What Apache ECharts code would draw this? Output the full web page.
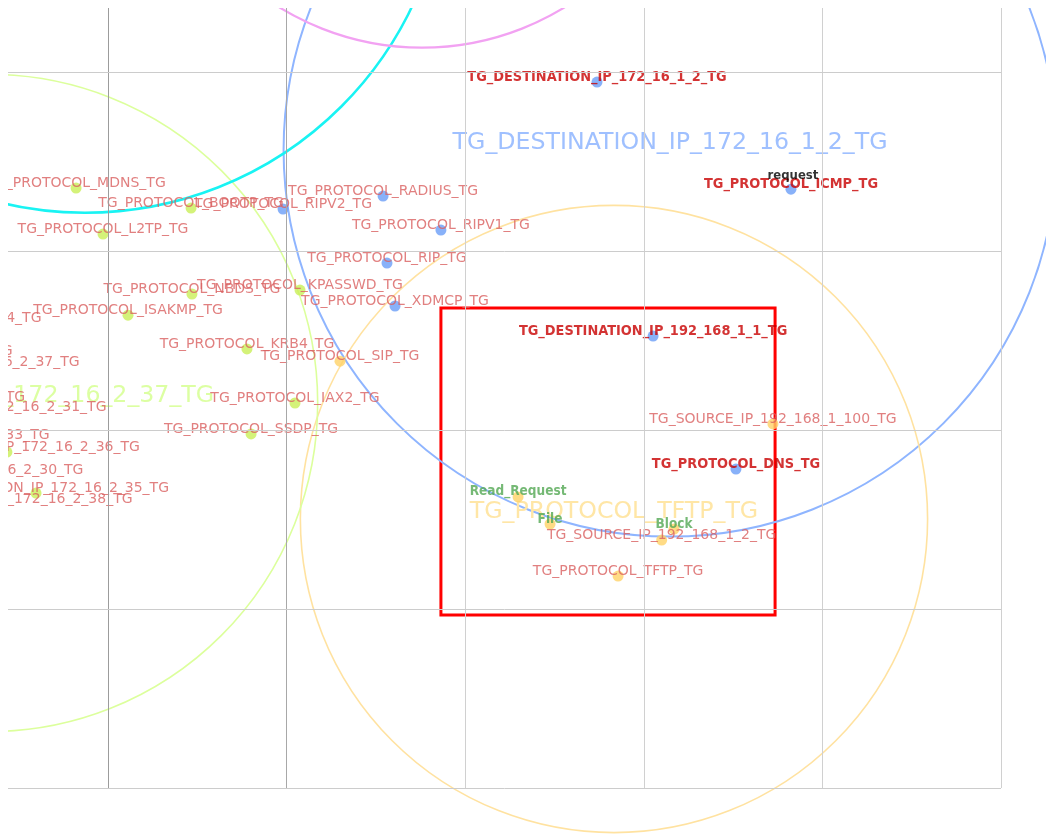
<!DOCTYPE html>
<html><head><meta charset="utf-8">
<script src="https://cdn.jsdelivr.net/npm/echarts@6/dist/echarts.min.js"></script>
<style>html,body{margin:0;padding:0;background:#fff}#c{width:1046px;height:836px}</style>
</head><body><div id="c"></div>
<script>
// ---- grid line positions (data units: grid cell = 100) ----
const xGridLines = [100, 200, 300, 400, 500, 600];
const yGridLines = [100, 200, 300, 400, 500];
const xRange = [44.0, 600];
const yRange = [64.2, 500];

// ---- cluster circles ----
const clusterNames = ['TG_DESTINATION_IP_172_16_1_2_TG', 'TG_PROTOCOL_TFTP_TG', 'TG_DESTINATION_IP_172_16_2_37_TG', '', ''];
const clusterX = [414.7, 383.3, 33.4, 87.1, 275.8];
const clusterY = [143.6, 349.7, 284.9, -24.0, -65.4];
const clusterR = [216.4, 175.6, 184.0, 203.0, 152.1];

// ---- nodes ----
const nodeNames = [
  'TG_DESTINATION_IP_172_16_1_2_TG', 'TG_PROTOCOL_ICMP_TG', 'TG_PROTOCOL_RADIUS_TG', 'TG_PROTOCOL_RIPV2_TG',
  'TG_PROTOCOL_BOOTP_TG', 'TG_PROTOCOL_MDNS_TG', 'TG_PROTOCOL_L2TP_TG', 'TG_PROTOCOL_RIPV1_TG',
  'TG_PROTOCOL_RIP_TG', 'TG_PROTOCOL_KPASSWD_TG', 'TG_PROTOCOL_NBDS_TG', 'TG_PROTOCOL_XDMCP_TG',
  'TG_PROTOCOL_ISAKMP_TG', 'TG_PROTOCOL_KRB4_TG', 'TG_PROTOCOL_SIP_TG', 'TG_PROTOCOL_IAX2_TG',
  'TG_PROTOCOL_SSDP_TG', 'TG_DESTINATION_IP_192_168_1_1_TG', 'TG_SOURCE_IP_192_168_1_100_TG', 'TG_PROTOCOL_DNS_TG',
  'Read_Request', 'File', 'Block', 'TG_SOURCE_IP_192_168_1_2_TG', 'TG_PROTOCOL_TFTP_TG',
  'TG_DESTINATION_IP_172_16_2_34_TG', 'TG_DESTINATION_IP_172_16_2_32_TG', 'TG_SOURCE_IP_172_16_2_37_TG',
  'TG_PROTOCOL_SNMP_TG', 'TG_DESTINATION_IP_172_16_2_31_TG', 'TG_DESTINATION_IP_172_16_2_33_TG',
  'TG_DESTINATION_IP_172_16_2_36_TG', 'TG_DESTINATION_IP_172_16_2_30_TG', 'TG_DESTINATION_IP_172_16_2_35_TG',
  'TG_DESTINATION_IP_172_16_2_38_TG', 'request'
];
const nodeX = [373.8, 482.4, 254.0, 198.0, 146.5, 82.1, 97.2, 286.4, 256.2, 207.5, 147.0, 260.7, 111.2, 177.8, 229.9, 204.7,
  180.1, 405.2, 472.3, 451.6, 329.6, 347.5, 416.9, 410.0, 385.6,
  -11.7, -27.9, 19.9, 4.0, 24.7, -7.2, 43.4, 11.8, 59.7, 39.3, 483.5];
const nodeY = [105.6, 165.4, 169.3, 176.5, 176.0, 164.8, 190.5, 188.3, 206.7, 221.8, 224.0, 230.7, 235.8, 254.7, 261.5, 284.9,
  302.2, 247.5, 296.6, 321.8, 337.4, 352.5, 355.3, 361.5, 381.6,
  240.2, 258.7, 264.8, 284.4, 289.9, 305.6, 312.3, 325.1, 335.2, 341.3, 160.9];
// cluster membership: 0 = 172_16_1_2 (blue), 1 = TFTP (yellow), 2 = 172_16_2_37 (green), -1 = none
const nodeGroup = [0, 0, 0, 0, 2, 2, 2, 0, 0, 2, 2, 0, 2, 2, 1, 2, 2, 0, 1, 0, 1, 1, 1, 1, 1,
  2, 2, 2, 2, 2, 2, 2, 2, 2, 2, -1];
// label kind: s = highlighted, n = normal, a = action, e = edge
const nodeKind = ['s', 's', 'n', 'n', 'n', 'n', 'n', 'n', 'n', 'n', 'n', 'n', 'n', 'n', 'n', 'n', 'n', 's', 'n', 's', 'a', 'a', 'a', 'n', 'n',
  'n', 'n', 'n', 'n', 'n', 'n', 'n', 'n', 'n', 'n', 'e'];

// ---- focus rectangle [x0, y0, x1, y1] ----
const focusBox = [286.4, 231.8, 473.5, 403.4];

// ---- styles ----
const xLineColors = ['#9c9c9c', '#a8a8a8', '#d0d0d0', '#d0d0d0', '#d0d0d0', '#d0d0d0'];
const ringColors = ['#8fb5ff', '#ffe2a0', '#dcff9c', '#19f3f3', '#f2a2f2'];
const ringWidths = [2, 1.6, 1.6, 2.5, 2.2];
const bigLabelColors = ['#9fc0ff', '#ffe6a6', '#dcffa2', '#19f3f3', '#f2a2f2'];
const nodeColors = {'0': '#6a9ef8', '1': '#ffd266', '2': '#c9ef58', '-1': 'rgba(0,0,0,0)'};
const labelStyles = {
  s: {color: '#c80000', fontFamily: 'DejaVu Sans Condensed, DejaVu Sans', fontWeight: 'bold', fontSize: 14.4},
  n: {color: '#da6060', fontFamily: 'DejaVu Sans', fontWeight: 'normal', fontSize: 14},
  a: {color: '#52a852', fontFamily: 'DejaVu Sans Condensed, DejaVu Sans', fontWeight: 'bold', fontSize: 13.5},
  e: {color: '#000000', fontFamily: 'DejaVu Sans Condensed, DejaVu Sans', fontWeight: 'bold', fontSize: 13}
};

const clusterData = clusterNames.map((n, i) => ({value: [clusterX[i], clusterY[i], clusterR[i], i], name: n}));
const nodeData = nodeNames.map((n, i) => ({
  name: n,
  value: [nodeX[i], nodeY[i]],
  symbolSize: nodeGroup[i] < 0 ? 0 : 11,
  itemStyle: {color: nodeColors[String(nodeGroup[i])]},
  label: Object.assign({show: true, position: 'inside', offset: [0, -5], formatter: '{b}'}, labelStyles[nodeKind[i]])
}));

const gridLineData = xGridLines.map((v, i) => ({xAxis: v, lineStyle: {color: xLineColors[i]}}))
  .concat(yGridLines.map(v => ({yAxis: v, lineStyle: {color: '#cccccc'}})));

const chart = echarts.init(document.getElementById('c'), null, {renderer: 'canvas'});
chart.setOption({
  animation: false,
  backgroundColor: '#ffffff',
  grid: {left: 8, top: 8, width: 993, height: 780, containLabel: false},
  xAxis: {
    type: 'value', min: xRange[0], max: xRange[1],
    axisLine: {show: false}, axisTick: {show: false}, axisLabel: {show: false}, splitLine: {show: false}
  },
  yAxis: {
    type: 'value', inverse: true, min: yRange[0], max: yRange[1],
    axisLine: {show: false}, axisTick: {show: false}, axisLabel: {show: false}, splitLine: {show: false}
  },
  series: [
    {
      type: 'line',
      data: [],
      z: 1,
      silent: true,
      markLine: {
        silent: true, symbol: ['none', 'none'], label: {show: false},
        lineStyle: {type: 'solid', width: 1},
        emphasis: {disabled: true},
        data: gridLineData
      }
    },
    {
      type: 'custom',
      clip: false,
      z: 2,
      data: clusterData,
      renderItem: function (params, api) {
        const c = api.coord([api.value(0), api.value(1)]);
        const r = Math.abs(api.size([api.value(2), 0])[0]);
        const i = api.value(3);
        return {
          type: 'group',
          children: [
            {type: 'circle', shape: {cx: c[0], cy: c[1], r: r},
              style: {fill: null, stroke: ringColors[i], lineWidth: ringWidths[i]}},
            {type: 'text', x: c[0], y: c[1] - 7,
              style: {text: clusterData[params.dataIndex].name, fill: bigLabelColors[i],
                font: '23.7px "DejaVu Sans"', align: 'center', verticalAlign: 'middle'}}
          ]
        };
      }
    },
    {
      type: 'scatter',
      clip: false,
      z: 3,
      data: nodeData,
      emphasis: {disabled: true},
      markArea: {
        silent: true,
        itemStyle: {color: 'rgba(0,0,0,0)', borderColor: '#ff0000', borderWidth: 3},
        data: [[{coord: [focusBox[0], focusBox[1]]}, {coord: [focusBox[2], focusBox[3]]}]]
      }
    }
  ],
  graphic: [
    {type: 'rect', z: 100, left: 0, top: 0, shape: {width: 8, height: 836}, style: {fill: '#ffffff'}},
    {type: 'rect', z: 100, left: 0, top: 0, shape: {width: 1046, height: 8}, style: {fill: '#ffffff'}}
  ]
});
</script>
</body></html>
